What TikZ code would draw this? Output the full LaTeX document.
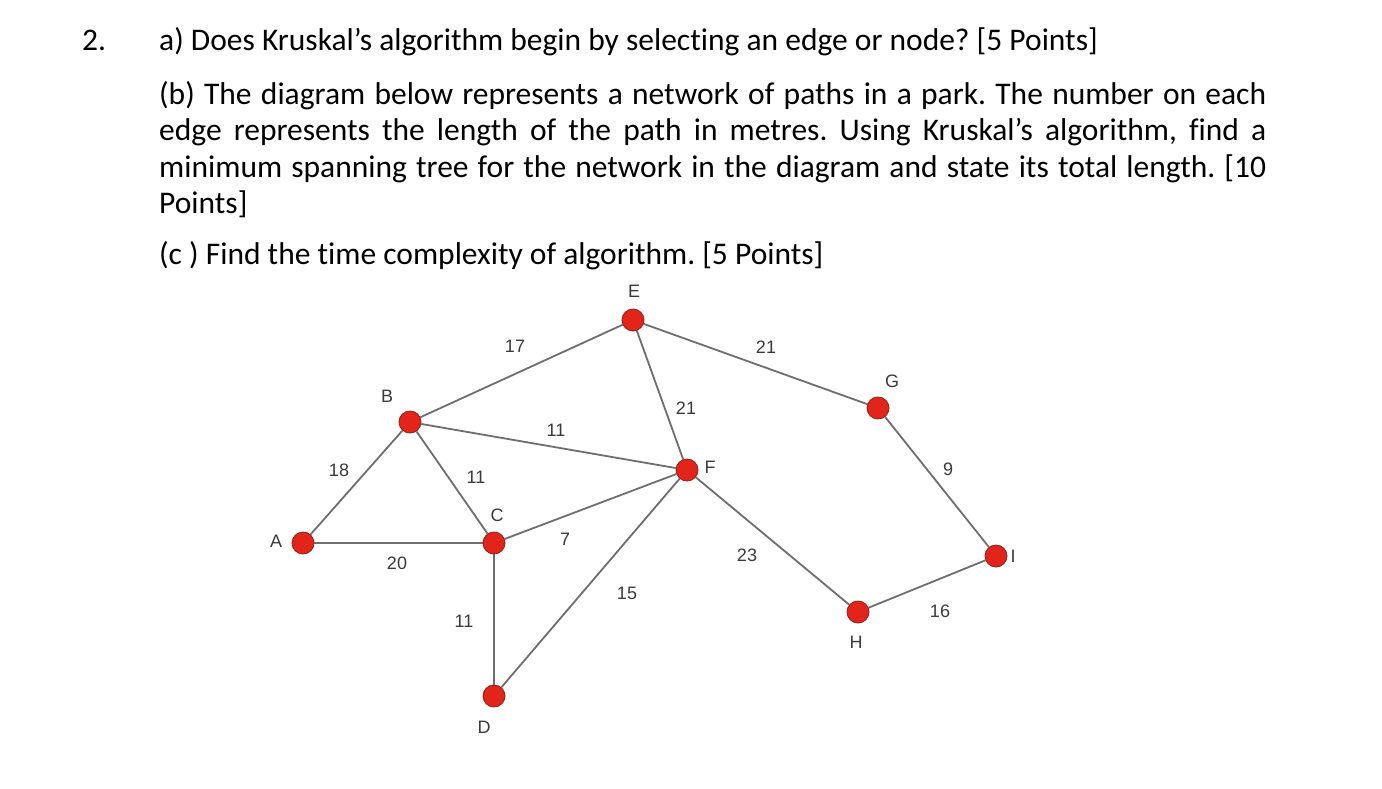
\documentclass[tikz,border=0pt]{standalone}
\usepackage{fontspec}
\setmainfont[Ligatures=NoCommon]{Carlito}
\newfontfamily\labfont{Liberation Sans}
\usetikzlibrary{backgrounds}
\frenchspacing
\definecolor{nodered}{HTML}{E1251B}
\definecolor{nodedark}{HTML}{9A1A12}
\definecolor{edgegray}{HTML}{6E6E6E}
\definecolor{labgray}{HTML}{3A3A3A}
\tikzset{
  vert/.style={circle, fill=nodered, draw=nodedark, line width=0.8pt, minimum size=22pt, inner sep=0pt},
  edgeline/.style={draw=edgegray, line width=1.8pt},
  lab/.style={font=\fontsize{18}{20}\selectfont\labfont, text=labgray, inner sep=0pt},
  txt/.style={font=\fontsize{31.5}{37}\selectfont, inner sep=0pt, anchor=base west}
}
\begin{document}
\begin{tikzpicture}[x=1pt,y=-1pt]
\useasboundingbox (0,0) rectangle (1382,788);
% question text
\node[txt] (num) at (82,50) {2.};
\node[txt] (qa) at (159,50) {a) Does Kruskal’s algorithm begin by selecting an edge or node? [5 Points]};
\node[txt] (qb1) at (159,104) {\makebox[1107pt][s]{(b) The diagram below represents a network of paths in a park. The number on each}};
\node[txt] (qb2) at (159,140.5) {\makebox[1107pt][s]{edge represents the length of the path in metres. Using Kruskal’s algorithm, find a}};
\node[txt] (qb3) at (159,177) {\makebox[1107pt][s]{minimum spanning tree for the network in the diagram and state its total length. [10}};
\node[txt] (qb4) at (159,213.5) {Points]};
\node[txt] (qc) at (159,264) {(c ) Find the time complexity of algorithm. [5 Points]};
% vertices
\node[vert] (A) at (303,543) {};
\node[vert] (B) at (410,422) {};
\node[vert] (C) at (494,543) {};
\node[vert] (D) at (494,696) {};
\node[vert] (E) at (633,320) {};
\node[vert] (F) at (687,470) {};
\node[vert] (G) at (878,408) {};
\node[vert] (H) at (858,612) {};
\node[vert] (I) at (996,556) {};
% edges
\begin{scope}[on background layer]
\fill[white] (0,0) rectangle (1382,788);
\draw[edgeline] (A) -- (B);
\draw[edgeline] (A) -- (C);
\draw[edgeline] (B) -- (C);
\draw[edgeline] (B) -- (E);
\draw[edgeline] (B) -- (F);
\draw[edgeline] (C) -- (F);
\draw[edgeline] (C) -- (D);
\draw[edgeline] (D) -- (F);
\draw[edgeline] (E) -- (F);
\draw[edgeline] (E) -- (G);
\draw[edgeline] (F) -- (H);
\draw[edgeline] (G) -- (I);
\draw[edgeline] (H) -- (I);
\end{scope}
% vertex labels
\node[lab] (lA) at (276,541) {A};
\node[lab] (lB) at (387,396) {B};
\node[lab] (lC) at (497,515) {C};
\node[lab] (lD) at (484,727) {D};
\node[lab] (lE) at (634,291) {E};
\node[lab] (lF) at (710,467) {F};
\node[lab] (lG) at (892,381) {G};
\node[lab] (lH) at (856,642) {H};
\node[lab] (lI) at (1013,556) {I};
% weights
\node[lab] (wBE) at (515,346) {17};
\node[lab] (wEG) at (766,347) {21};
\node[lab] (wEF) at (686,408) {21};
\node[lab] (wBF) at (556,430) {11};
\node[lab] (wAB) at (339,470) {18};
\node[lab] (wBC) at (476,477) {11};
\node[lab] (wCF) at (565,539) {7};
\node[lab] (wAC) at (397,563) {20};
\node[lab] (wFH) at (747,555) {23};
\node[lab] (wDF) at (627,593) {15};
\node[lab] (wCD) at (464,621) {11};
\node[lab] (wGI) at (948,469) {9};
\node[lab] (wHI) at (940,611) {16};
\end{tikzpicture}
\end{document}
